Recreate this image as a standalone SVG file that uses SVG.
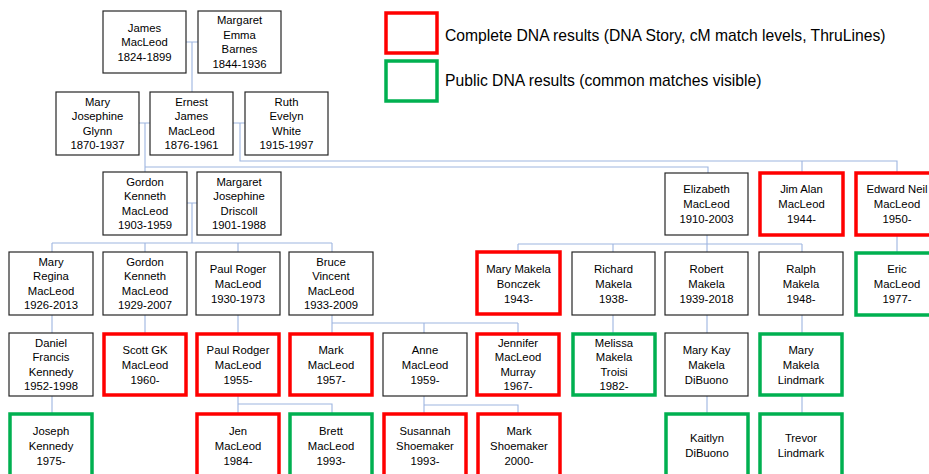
<svg xmlns="http://www.w3.org/2000/svg" width="929" height="474" viewBox="0 0 929 474">
  <style>
    .box { fill: #ffffff; stroke: #262626; stroke-width: 1.2; }
    .full { fill: #ffffff; stroke: #ff0000; stroke-width: 3.5; }
    .pub { fill: #ffffff; stroke: #00b050; stroke-width: 3.5; }
    .lbl { font-family: "Liberation Sans", Arial, sans-serif; font-size: 11.3px; fill: #000000; text-anchor: middle; }
    .legend { font-family: "Liberation Sans", Arial, sans-serif; font-size: 15.7px; fill: #000000; }
    .links path { fill: none; stroke: #9db5e0; stroke-width: 1.1; }
  </style>

  <!-- connectors -->
  <g class="links">
    <path d="M186,42 H198 M192,42 V92"/>
    <path d="M139,123 H150 M145,123 V172 M145,167 H708 V173"/>
    <path d="M233,123 H245 M240,123 V161 H897 V173 M802,161 V173"/>
    <path d="M187,203 H197 M192,203 V243 M52,243 H332 M52,243 V252 M145,243 V252 M238,243 V252 M332,243 V252"/>
    <path d="M707,235 V244 M518,244 H802 M518,244 V252 M613,244 V252 M707,244 V252 M802,244 V252"/>
    <path d="M897,235 V252"/>
    <path d="M52,315 V333 M145,315 V333 M238,315 V333"/>
    <path d="M332,315 V323 H518 M332,323 V333 M424,323 V333 M518,323 V333"/>
    <path d="M613,315 V333 M707,315 V333 M802,315 V333"/>
    <path d="M52,396 V413 M238,396 V413 M238,404 H332 V413"/>
    <path d="M424,396 V413 M424,405 H518 V413"/>
    <path d="M707,396 V413 M802,396 V413"/>
  </g>

  <!-- legend -->
  <g id="legend">
    <rect class="full" x="386" y="13" width="51" height="40"/>
    <text class="legend" x="445" y="40.5">Complete DNA results (DNA Story, cM match levels, ThruLines)</text>
    <rect class="pub" x="386" y="61" width="51" height="40"/>
    <text class="legend" x="445" y="86">Public DNA results (common matches visible)</text>
  </g>

  <!-- generation 1 -->
  <g id="james-macleod">
    <rect class="box" x="103" y="11" width="83" height="62"/>
    <text class="lbl"><tspan x="144.5" y="31.5">James</tspan><tspan x="144.5" y="46">MacLeod</tspan><tspan x="144.5" y="60.5">1824-1899</tspan></text>
  </g>
  <g id="margaret-emma-barnes">
    <rect class="box" x="198" y="11" width="83" height="62"/>
    <text class="lbl"><tspan x="239.5" y="24">Margaret</tspan><tspan x="239.5" y="38.6">Emma</tspan><tspan x="239.5" y="53.2">Barnes</tspan><tspan x="239.5" y="67.8">1844-1936</tspan></text>
  </g>

  <!-- generation 2 -->
  <g id="mary-josephine-glynn">
    <rect class="box" x="56" y="92" width="83" height="63"/>
    <text class="lbl"><tspan x="97.5" y="105.5">Mary</tspan><tspan x="97.5" y="120">Josephine</tspan><tspan x="97.5" y="134.5">Glynn</tspan><tspan x="97.5" y="149">1870-1937</tspan></text>
  </g>
  <g id="ernest-james-macleod">
    <rect class="box" x="150" y="92" width="83" height="63"/>
    <text class="lbl"><tspan x="191.5" y="105.5">Ernest</tspan><tspan x="191.5" y="120">James</tspan><tspan x="191.5" y="134.5">MacLeod</tspan><tspan x="191.5" y="149">1876-1961</tspan></text>
  </g>
  <g id="ruth-evelyn-white">
    <rect class="box" x="245" y="92" width="83" height="63"/>
    <text class="lbl"><tspan x="286.5" y="105.5">Ruth</tspan><tspan x="286.5" y="120">Evelyn</tspan><tspan x="286.5" y="134.5">White</tspan><tspan x="286.5" y="149">1915-1997</tspan></text>
  </g>

  <!-- generation 3 -->
  <g id="gordon-kenneth-macleod-1903">
    <rect class="box" x="103" y="172" width="84" height="63"/>
    <text class="lbl"><tspan x="145" y="185.5">Gordon</tspan><tspan x="145" y="200">Kenneth</tspan><tspan x="145" y="214.5">MacLeod</tspan><tspan x="145" y="229">1903-1959</tspan></text>
  </g>
  <g id="margaret-josephine-driscoll">
    <rect class="box" x="197" y="172" width="84" height="63"/>
    <text class="lbl"><tspan x="239" y="185.5">Margaret</tspan><tspan x="239" y="200">Josephine</tspan><tspan x="239" y="214.5">Driscoll</tspan><tspan x="239" y="229">1901-1988</tspan></text>
  </g>
  <g id="elizabeth-macleod">
    <rect class="box" x="665" y="173" width="83" height="62"/>
    <text class="lbl"><tspan x="706.5" y="193">Elizabeth</tspan><tspan x="706.5" y="208">MacLeod</tspan><tspan x="706.5" y="223">1910-2003</tspan></text>
  </g>
  <g id="jim-alan-macleod">
    <rect class="full" x="760" y="173" width="83" height="62"/>
    <text class="lbl"><tspan x="801.5" y="193">Jim Alan</tspan><tspan x="801.5" y="208">MacLeod</tspan><tspan x="801.5" y="223">1944-</tspan></text>
  </g>
  <g id="edward-neil-macleod">
    <rect class="full" x="856" y="173" width="83" height="62"/>
    <text class="lbl"><tspan x="897" y="193">Edward Neil</tspan><tspan x="897" y="208">MacLeod</tspan><tspan x="897" y="223">1950-</tspan></text>
  </g>

  <!-- generation 4 -->
  <g id="mary-regina-macleod">
    <rect class="box" x="9" y="252" width="84" height="63"/>
    <text class="lbl"><tspan x="51" y="265.5">Mary</tspan><tspan x="51" y="280">Regina</tspan><tspan x="51" y="294.5">MacLeod</tspan><tspan x="51" y="309">1926-2013</tspan></text>
  </g>
  <g id="gordon-kenneth-macleod-1929">
    <rect class="box" x="103" y="252" width="84" height="63"/>
    <text class="lbl"><tspan x="145" y="265.5">Gordon</tspan><tspan x="145" y="280">Kenneth</tspan><tspan x="145" y="294.5">MacLeod</tspan><tspan x="145" y="309">1929-2007</tspan></text>
  </g>
  <g id="paul-roger-macleod">
    <rect class="box" x="196" y="252" width="84" height="63"/>
    <text class="lbl"><tspan x="238" y="273">Paul Roger</tspan><tspan x="238" y="288">MacLeod</tspan><tspan x="238" y="303">1930-1973</tspan></text>
  </g>
  <g id="bruce-vincent-macleod">
    <rect class="box" x="289" y="252" width="84" height="63"/>
    <text class="lbl"><tspan x="331" y="265.5">Bruce</tspan><tspan x="331" y="280">Vincent</tspan><tspan x="331" y="294.5">MacLeod</tspan><tspan x="331" y="309">1933-2009</tspan></text>
  </g>
  <g id="mary-makela-bonczek">
    <rect class="full" x="477" y="252" width="83" height="62"/>
    <text class="lbl"><tspan x="518.5" y="273">Mary Makela</tspan><tspan x="518.5" y="288">Bonczek</tspan><tspan x="518.5" y="303">1943-</tspan></text>
  </g>
  <g id="richard-makela">
    <rect class="box" x="572" y="252" width="83" height="63"/>
    <text class="lbl"><tspan x="613.5" y="273">Richard</tspan><tspan x="613.5" y="288">Makela</tspan><tspan x="613.5" y="303">1938-</tspan></text>
  </g>
  <g id="robert-makela">
    <rect class="box" x="665" y="252" width="83" height="63"/>
    <text class="lbl"><tspan x="706.5" y="273">Robert</tspan><tspan x="706.5" y="288">Makela</tspan><tspan x="706.5" y="303">1939-2018</tspan></text>
  </g>
  <g id="ralph-makela">
    <rect class="box" x="759" y="252" width="84" height="63"/>
    <text class="lbl"><tspan x="801" y="273">Ralph</tspan><tspan x="801" y="288">Makela</tspan><tspan x="801" y="303">1948-</tspan></text>
  </g>
  <g id="eric-macleod">
    <rect class="pub" x="856" y="253" width="83" height="62"/>
    <text class="lbl"><tspan x="897" y="272.5">Eric</tspan><tspan x="897" y="287.5">MacLeod</tspan><tspan x="897" y="302.5">1977-</tspan></text>
  </g>

  <!-- generation 5 -->
  <g id="daniel-francis-kennedy">
    <rect class="box" x="9" y="333" width="84" height="63"/>
    <text class="lbl"><tspan x="51" y="346.5">Daniel</tspan><tspan x="51" y="361">Francis</tspan><tspan x="51" y="375.5">Kennedy</tspan><tspan x="51" y="390">1952-1998</tspan></text>
  </g>
  <g id="scott-gk-macleod">
    <rect class="full" x="104" y="334" width="82" height="61"/>
    <text class="lbl"><tspan x="145" y="354">Scott GK</tspan><tspan x="145" y="369">MacLeod</tspan><tspan x="145" y="384">1960-</tspan></text>
  </g>
  <g id="paul-rodger-macleod">
    <rect class="full" x="197" y="334" width="82" height="61"/>
    <text class="lbl"><tspan x="238" y="354">Paul Rodger</tspan><tspan x="238" y="369">MacLeod</tspan><tspan x="238" y="384">1955-</tspan></text>
  </g>
  <g id="mark-macleod">
    <rect class="full" x="290" y="334" width="82" height="61"/>
    <text class="lbl"><tspan x="331" y="354">Mark</tspan><tspan x="331" y="369">MacLeod</tspan><tspan x="331" y="384">1957-</tspan></text>
  </g>
  <g id="anne-macleod">
    <rect class="box" x="383" y="333" width="84" height="63"/>
    <text class="lbl"><tspan x="425" y="354">Anne</tspan><tspan x="425" y="369">MacLeod</tspan><tspan x="425" y="384">1959-</tspan></text>
  </g>
  <g id="jennifer-macleod-murray">
    <rect class="full" x="477" y="334" width="82" height="61"/>
    <text class="lbl"><tspan x="518" y="346.5">Jennifer</tspan><tspan x="518" y="361">MacLeod</tspan><tspan x="518" y="375.5">Murray</tspan><tspan x="518" y="390">1967-</tspan></text>
  </g>
  <g id="melissa-makela-troisi">
    <rect class="pub" x="573" y="334" width="82" height="61"/>
    <text class="lbl"><tspan x="614" y="346.5">Melissa</tspan><tspan x="614" y="361">Makela</tspan><tspan x="614" y="375.5">Troisi</tspan><tspan x="614" y="390">1982-</tspan></text>
  </g>
  <g id="mary-kay-makela-dibuono">
    <rect class="box" x="665" y="333" width="83" height="63"/>
    <text class="lbl"><tspan x="706.5" y="354">Mary Kay</tspan><tspan x="706.5" y="369">Makela</tspan><tspan x="706.5" y="384">DiBuono</tspan></text>
  </g>
  <g id="mary-makela-lindmark">
    <rect class="pub" x="760" y="334" width="82" height="61"/>
    <text class="lbl"><tspan x="801" y="354">Mary</tspan><tspan x="801" y="369">Makela</tspan><tspan x="801" y="384">Lindmark</tspan></text>
  </g>

  <!-- generation 6 -->
  <g id="joseph-kennedy">
    <rect class="pub" x="10" y="414" width="82" height="70"/>
    <text class="lbl"><tspan x="51" y="435">Joseph</tspan><tspan x="51" y="450">Kennedy</tspan><tspan x="51" y="465">1975-</tspan></text>
  </g>
  <g id="jen-macleod">
    <rect class="full" x="197" y="414" width="82" height="70"/>
    <text class="lbl"><tspan x="238" y="435">Jen</tspan><tspan x="238" y="450">MacLeod</tspan><tspan x="238" y="465">1984-</tspan></text>
  </g>
  <g id="brett-macleod">
    <rect class="pub" x="290" y="414" width="82" height="70"/>
    <text class="lbl"><tspan x="331" y="435">Brett</tspan><tspan x="331" y="450">MacLeod</tspan><tspan x="331" y="465">1993-</tspan></text>
  </g>
  <g id="susannah-shoemaker">
    <rect class="full" x="384" y="414" width="82" height="70"/>
    <text class="lbl"><tspan x="425" y="435">Susannah</tspan><tspan x="425" y="450">Shoemaker</tspan><tspan x="425" y="465">1993-</tspan></text>
  </g>
  <g id="mark-shoemaker">
    <rect class="full" x="478" y="414" width="82" height="70"/>
    <text class="lbl"><tspan x="519" y="435">Mark</tspan><tspan x="519" y="450">Shoemaker</tspan><tspan x="519" y="465">2000-</tspan></text>
  </g>
  <g id="kaitlyn-dibuono">
    <rect class="pub" x="666" y="414" width="82" height="70"/>
    <text class="lbl"><tspan x="707" y="442">Kaitlyn</tspan><tspan x="707" y="457">DiBuono</tspan></text>
  </g>
  <g id="trevor-lindmark">
    <rect class="pub" x="760" y="414" width="82" height="70"/>
    <text class="lbl"><tspan x="801" y="442">Trevor</tspan><tspan x="801" y="457">Lindmark</tspan></text>
  </g>
</svg>
